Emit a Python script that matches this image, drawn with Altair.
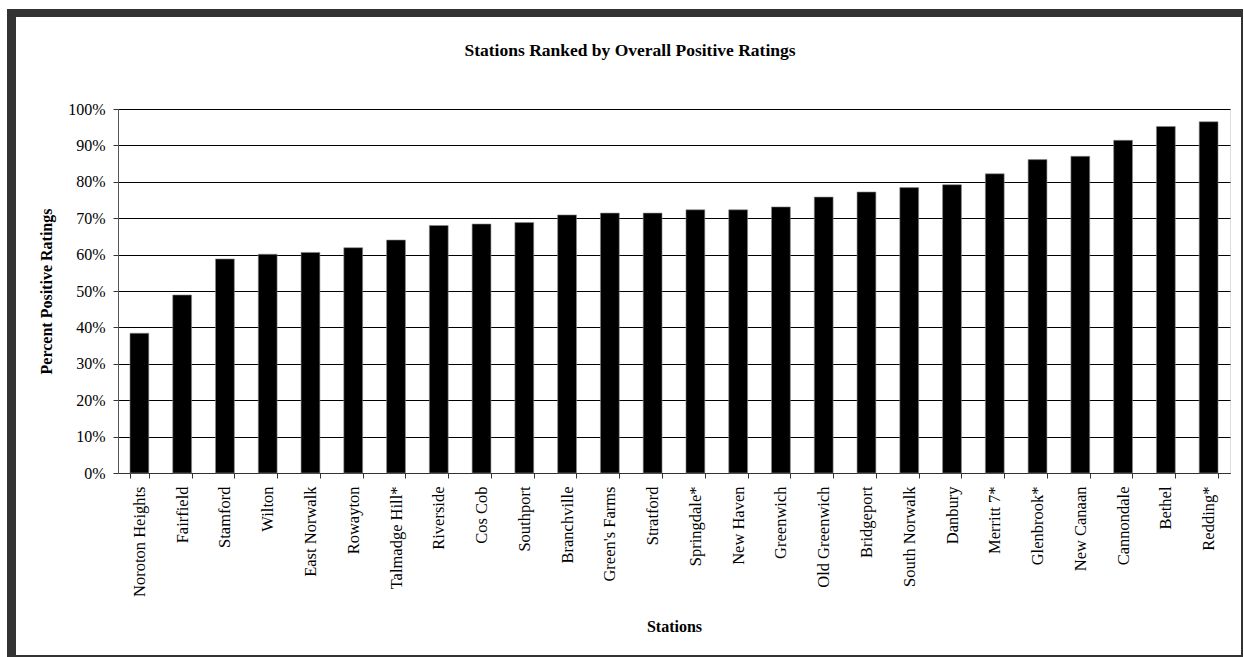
import altair as alt
import pandas as pd

stations = ["Noroton Heights", "Fairfield", "Stamford", "Wilton", "East Norwalk",
            "Rowayton", "Talmadge Hill*", "Riverside", "Cos Cob", "Southport",
            "Branchville", "Green's Farms", "Stratford", "Springdale*", "New Haven",
            "Greenwich", "Old Greenwich", "Bridgeport", "South Norwalk", "Danbury",
            "Merritt 7*", "Glenbrook*", "New Canaan", "Cannondale", "Bethel", "Redding*"]
ratings = [0.384, 0.489, 0.588, 0.601, 0.606, 0.619, 0.640, 0.680, 0.684, 0.688,
           0.709, 0.714, 0.714, 0.723, 0.723, 0.731, 0.758, 0.772, 0.784, 0.792,
           0.822, 0.861, 0.870, 0.914, 0.952, 0.965]
y_ticks = [0.0, 0.1, 0.2, 0.3, 0.4, 0.5, 0.6, 0.7, 0.8, 0.9, 1.0]

df = pd.DataFrame({"station": stations, "rating": ratings})
frame_df = pd.DataFrame({"k": [0]})

FONT = "Liberation Serif"
FRAME = "#333333"

bars = alt.Chart(df).mark_bar(color="black", stroke="#8a8a8a", strokeWidth=0.6).encode(
    x=alt.X("station:N", sort=stations,
            scale=alt.Scale(paddingInner=0.56, paddingOuter=0.28),
            axis=alt.Axis(title="Stations", labelAngle=-90, tickBand="extent",
                          tickSize=5, labelPadding=8, labelFontSize=16.5,
                          labelFont=FONT, titleFont=FONT,
                          labelColor="black", titleColor="black",
                          domainColor="#333333", tickColor="#333333",
                          titleFontSize=16, titleFontWeight="bold",
                          titleY=145, labelLimit=300)),
    y=alt.Y("rating:Q", scale=alt.Scale(domain=[0, 1]),
            axis=alt.Axis(title="Percent Positive Ratings", format=".0%",
                          values=y_ticks, grid=True, gridColor="black",
                          gridWidth=1, tickSize=5, labelPadding=8,
                          labelFont=FONT, titleFont=FONT,
                          labelColor="black", titleColor="black",
                          labelFontSize=16, domainColor="#555555",
                          tickColor="#333333", titleFontSize=16,
                          titleFontWeight="bold", titleX=-72,
                          titleBaseline="middle")),
)

def frame_rect(x1, x2, y1, y2):
    return alt.Chart(frame_df).mark_rect(color=FRAME).encode(
        x=alt.value(x1), x2=alt.value(x2), y=alt.value(y1), y2=alt.value(y2))

frame = (frame_rect(-111, -102, -100, 548) + frame_rect(-111, 1125, -100, -92)
         + frame_rect(1123, 1125, -100, 548) + frame_rect(-111, 1125, 546, 548))

chart = alt.layer(bars, frame).properties(
    width=1112, height=364,
    title=alt.TitleParams("Stations Ranked by Overall Positive Ratings",
                          fontSize=17.5, fontWeight="bold", font=FONT, color="black",
                          anchor="middle", frame="group", dx=-44, offset=-50),
    autosize=alt.AutoSizeParams(type="none"),
    padding={"left": 118, "top": 109, "right": 14, "bottom": 184},
).configure_view(
    stroke="#808080", strokeWidth=1
).configure(background="white", font=FONT)

chart.save("out.html", embed_options={"renderer": "svg", "actions": False})
